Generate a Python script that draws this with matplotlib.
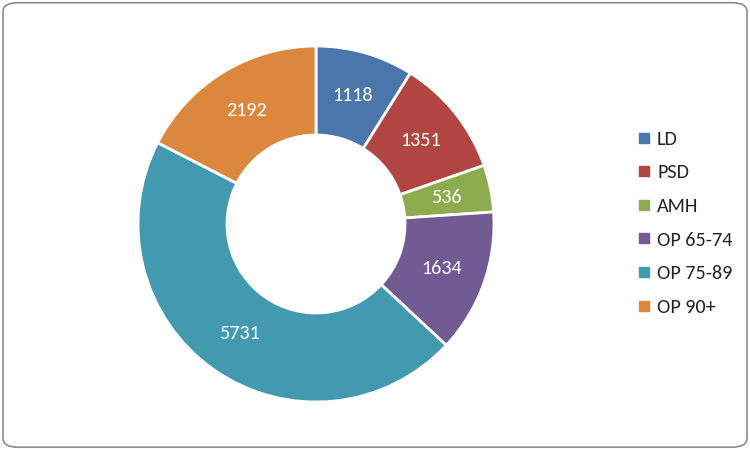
import matplotlib.pyplot as plt
from matplotlib.patches import FancyBboxPatch
from matplotlib.lines import Line2D

categories = ['LD', 'PSD', 'AMH', 'OP 65-74', 'OP 75-89', 'OP 90+']
values = [1118, 1351, 536, 1634, 5731, 2192]
colors = ['#4A76AB', '#B04542', '#8DAB4F', '#725A92', '#4299B0', '#DB883E']

plt.rcParams['font.family'] = ['Carlito', 'Liberation Sans', 'DejaVu Sans']

fig = plt.figure(figsize=(7.5, 4.49), dpi=100)

# rounded outer border
border = FancyBboxPatch((0.004, 0.004), 0.992, 0.99, boxstyle='round,pad=0,rounding_size=0.02',
                        transform=fig.transFigure, fill=False, edgecolor='#8c8c8c', linewidth=1.2)
fig.patches.append(border)

cx, cy, r = 316, 225, 178
ax = fig.add_axes([(cx - r) / 750, (cy - r) / 449, 2 * r / 750, 2 * r / 449])
wedges, texts = ax.pie(values, colors=colors, startangle=90, counterclock=False, radius=1,
                       wedgeprops=dict(width=0.5, edgecolor='white', linewidth=2),
                       labels=[str(v) for v in values], labeldistance=0.75,
                       textprops=dict(color='white', fontsize=14.5))
for t in texts:
    t.set_ha('center')
    t.set_va('center')
ax.set_xlim(-1.0, 1.0)
ax.set_ylim(-1.0, 1.0)
ax.set_aspect('equal')
ax.axis('off')

handles = [Line2D([], [], marker='s', linestyle='none', markersize=7, markerfacecolor=c,
                  markeredgecolor=c) for c in colors]
fig.legend(handles, categories, loc='center left', bbox_to_anchor=(0.821, 0.503), frameon=False,
           fontsize=14.5, labelspacing=0.82, handletextpad=0.15, handlelength=1.0,
           labelcolor='#222222')

fig.savefig('out.png', dpi=100)
